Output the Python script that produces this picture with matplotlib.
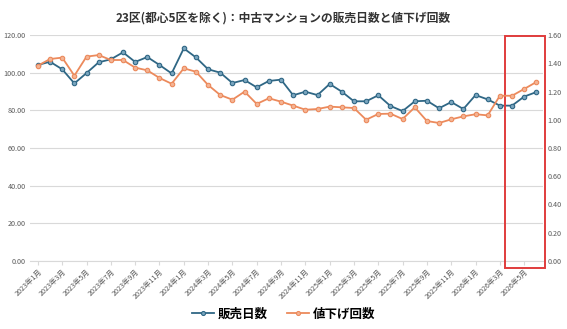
import matplotlib
matplotlib.use("Agg")
import matplotlib.pyplot as plt
from matplotlib.patches import Rectangle

plt.rcParams['font.family'] = ['Noto Sans CJK JP', 'DejaVu Sans']

months = [f"{y}年{m}月" for y in (2023, 2024, 2025, 2026) for m in range(1, 13)][:42]

days_on_market = [104.1, 105.8, 101.8, 94.3, 99.8, 105.5, 107.1, 110.8, 105.7, 108.3,
                  104.1, 99.6, 112.9, 108.1, 101.8, 100.0, 94.5, 96.1, 92.2, 95.6,
                  96.3, 88.0, 89.9, 88.1, 94.0, 89.9, 84.8, 84.8, 88.0, 82.3,
                  79.6, 84.8, 85.1, 81.1, 84.4, 80.7, 88.1, 85.8, 82.5, 82.5,
                  87.3, 89.7]
price_cuts = [1.383, 1.430, 1.440, 1.312, 1.447, 1.458, 1.423, 1.423, 1.369, 1.350,
              1.296, 1.255, 1.364, 1.340, 1.246, 1.175, 1.142, 1.199, 1.112, 1.152,
              1.128, 1.100, 1.071, 1.076, 1.093, 1.088, 1.083, 1.000, 1.041, 1.043,
              1.005, 1.088, 0.991, 0.977, 1.003, 1.024, 1.039, 1.031, 1.170, 1.170,
              1.218, 1.267]

left_ticks = [0, 20, 40, 60, 80, 100, 120]
right_ticks = [0, 0.2, 0.4, 0.6, 0.8, 1.0, 1.2, 1.4, 1.6]

blue = '#2f6785'
blue_face = '#7aa5be'
orange = '#ec8a5c'
orange_face = '#f4b494'
label_gray = '#595959'

fig = plt.figure(figsize=(5.67, 3.29), dpi=100)
ax = fig.add_axes([0.0529, 0.2067, 0.9048, 0.6869])
ax2 = ax.twinx()

x = list(range(len(months)))
l1, = ax.plot(x, days_on_market, color=blue, lw=1.3, marker='o', ms=3.2,
              mfc=blue_face, mec=blue, mew=0.8, label='販売日数', zorder=3)
l2, = ax2.plot(x, price_cuts, color=orange, lw=1.3, marker='o', ms=3.2,
               mfc=orange_face, mec=orange, mew=0.8, label='値下げ回数', zorder=3)

ax.set_ylim(0, 120)
ax2.set_ylim(0, 1.6)
ax.set_xlim(-0.65, 41.55)
ax.set_yticks(left_ticks)
ax.set_yticklabels([f"{v:.2f}" for v in left_ticks])
ax2.set_yticks(right_ticks)
ax2.set_yticklabels([f"{v:.2f}" for v in right_ticks])
ax.grid(axis='y', color='#d9d9d9', lw=0.8)
ax.set_axisbelow(True)

ax.set_xticks(x[::2])
ax.set_xticklabels(months[::2], rotation=45, ha='right', rotation_mode='anchor',
                   fontsize=5.2, color=label_gray)
ax.tick_params(axis='x', length=3, color='#d9d9d9', pad=2)
ax.tick_params(axis='y', length=0, labelsize=5.2, labelcolor=label_gray, pad=3)
ax2.tick_params(axis='y', length=0, labelsize=5.2, labelcolor=label_gray, pad=3)

for a in (ax, ax2):
    for s in a.spines.values():
        s.set_visible(False)
ax.spines['bottom'].set_visible(True)
ax.spines['bottom'].set_color('#d9d9d9')

# red highlight box (last three months)
rect = Rectangle((38.45, -3.7), 3.3, 123.2, fill=False, edgecolor='#e03c3c',
                 lw=1.4, clip_on=False, zorder=5, transform=ax.transData)
ax.add_patch(rect)

fig.suptitle('23区(都心5区を除く)：中古マンションの販売日数と値下げ回数',
             y=0.965, fontsize=8.5, fontweight='bold', color='#333333')

leg = fig.legend(handles=[l1, l2], loc='center', bbox_to_anchor=(0.5, 0.045),
                 ncol=2, frameon=False, fontsize=9, handlelength=1.8,
                 columnspacing=1.5, handletextpad=0.3, markerscale=0.9)
for t in leg.get_texts():
    t.set_fontweight('bold')

fig.savefig('out.png', dpi=100)
